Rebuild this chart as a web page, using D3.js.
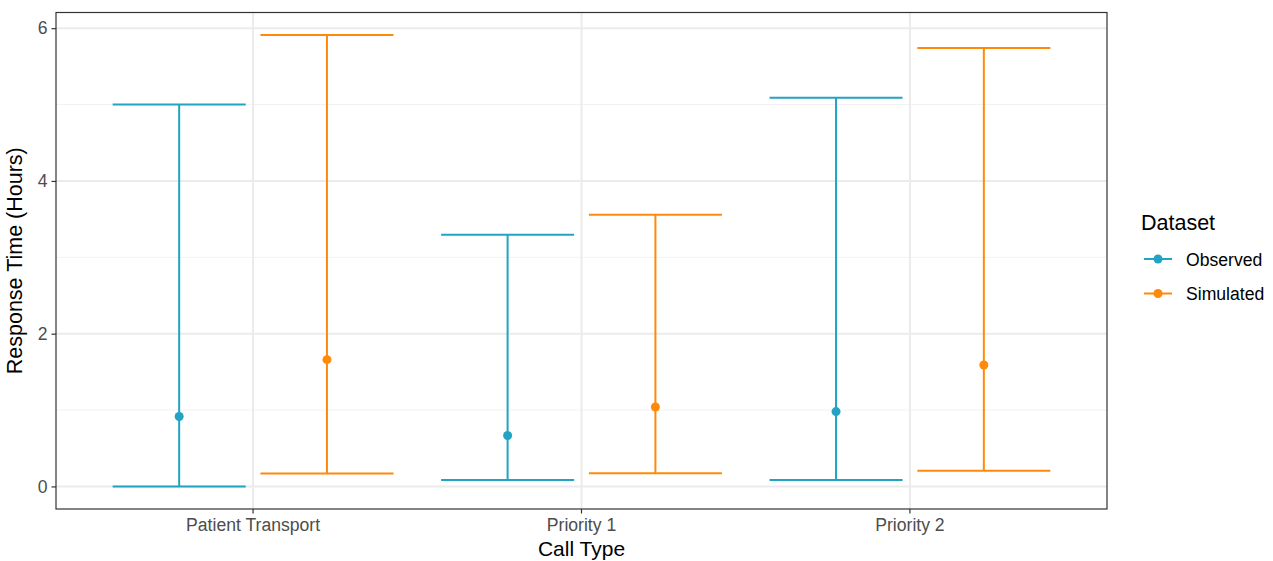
<!DOCTYPE html>
<html>
<head>
<meta charset="utf-8">
<script src="https://cdn.jsdelivr.net/npm/d3@7"></script>
<style>
  html, body { margin: 0; padding: 0; background: #fff; }
  svg { display: block; font-family: "Liberation Sans", Arial, sans-serif; }
</style>
</head>
<body>
<svg id="chart" width="1273" height="561"></svg>
<script>
// Response time summary per call type: mean with lower/upper range
const categories = ["Patient Transport", "Priority 1", "Priority 2"];
const datasets = ["Observed", "Simulated"];
const observedMean = [0.915, 0.667, 0.98];
const observedLow = [0.0, 0.083, 0.083];
const observedHigh = [5.0, 3.295, 5.09];
const simulatedMean = [1.66, 1.04, 1.59];
const simulatedLow = [0.17, 0.174, 0.204];
const simulatedHigh = [5.91, 3.556, 5.74];
const yTicks = [0, 2, 4, 6];
const colors = { Observed: "#22A3C3", Simulated: "#FF8A0A" };

const FONT = "Liberation Sans, Arial, sans-serif";

const rows = [];
categories.forEach((c, i) => {
  rows.push({ cat: c, set: "Observed", mean: observedMean[i], low: observedLow[i], high: observedHigh[i] });
  rows.push({ cat: c, set: "Simulated", mean: simulatedMean[i], low: simulatedLow[i], high: simulatedHigh[i] });
});

const svg = d3.select("#chart");
const panel = { left: 56, top: 12.5, right: 1107, bottom: 509 };

// y: data span with 5% padding on each side
const yMin = d3.min(rows, d => d.low), yMax = d3.max(rows, d => d.high);
const pad = (yMax - yMin) * 0.05;
const y = d3.scaleLinear().domain([yMin - pad, yMax + pad]).range([panel.bottom, panel.top]);

// x: discrete positions 1..n with 0.6 padding
const xc = d3.scaleLinear().domain([0.4, categories.length + 0.6]).range([panel.left, panel.right]);
const catPos = c => xc(categories.indexOf(c) + 1);
const dodge = 0.225, halfBar = 0.2025;
const xPos = d => xc(categories.indexOf(d.cat) + 1 + (d.set === "Observed" ? -dodge : dodge));
const unit = xc(1) - xc(0);

// panel grid
const g = svg.append("g");
const minor = [1, 3, 5];
g.selectAll(".minor").data(minor).join("line")
  .attr("x1", panel.left).attr("x2", panel.right)
  .attr("y1", d => y(d)).attr("y2", d => y(d))
  .attr("stroke", "#F2F2F2").attr("stroke-width", 1);
g.selectAll(".major").data(yTicks).join("line")
  .attr("x1", panel.left).attr("x2", panel.right)
  .attr("y1", d => y(d)).attr("y2", d => y(d))
  .attr("stroke", "#EBEBEB").attr("stroke-width", 2);
g.selectAll(".vgrid").data(categories).join("line")
  .attr("x1", d => catPos(d)).attr("x2", d => catPos(d))
  .attr("y1", panel.top).attr("y2", panel.bottom)
  .attr("stroke", "#EBEBEB").attr("stroke-width", 2);

// error bars
const bars = svg.append("g").selectAll("g").data(rows).join("g")
  .attr("stroke", d => colors[d.set]).attr("stroke-width", 2).attr("fill", "none");
bars.append("line")
  .attr("x1", d => xPos(d)).attr("x2", d => xPos(d))
  .attr("y1", d => y(d.low)).attr("y2", d => y(d.high));
bars.append("line")
  .attr("x1", d => xPos(d) - halfBar * unit).attr("x2", d => xPos(d) + halfBar * unit)
  .attr("y1", d => y(d.high)).attr("y2", d => y(d.high));
bars.append("line")
  .attr("x1", d => xPos(d) - halfBar * unit).attr("x2", d => xPos(d) + halfBar * unit)
  .attr("y1", d => y(d.low)).attr("y2", d => y(d.low));
svg.append("g").selectAll("circle").data(rows).join("circle")
  .attr("cx", d => xPos(d)).attr("cy", d => y(d.mean)).attr("r", 4.5)
  .attr("fill", d => colors[d.set]);

// panel border
svg.append("rect")
  .attr("x", panel.left).attr("y", panel.top)
  .attr("width", panel.right - panel.left).attr("height", panel.bottom - panel.top)
  .attr("fill", "none").attr("stroke", "#333333").attr("stroke-width", 1.2);

// axes
const yAxis = d3.axisLeft(y).tickValues(yTicks).tickSize(4.5).tickPadding(4).tickFormat(d3.format("d"));
const ya = svg.append("g").attr("transform", `translate(${panel.left},0)`).call(yAxis)
  .attr("font-family", FONT).attr("font-size", 17.6);
ya.select(".domain").remove();
ya.selectAll(".tick line").attr("stroke", "#333333").attr("stroke-width", 1.2);
ya.selectAll(".tick text").attr("fill", "#4D4D4D");

const xb = d3.scaleBand().domain(categories).range([xc(0.5), xc(categories.length + 0.5)]);
const xAxis = d3.axisBottom(xb).tickSize(4.5).tickPadding(5);
const xa = svg.append("g").attr("transform", `translate(0,${panel.bottom})`).call(xAxis)
  .attr("font-family", FONT).attr("font-size", 17.6);
xa.select(".domain").remove();
xa.selectAll(".tick line").attr("stroke", "#333333").attr("stroke-width", 1.2);
xa.selectAll(".tick text").attr("fill", "#4D4D4D");

// axis titles
svg.append("text").attr("x", (panel.left + panel.right) / 2).attr("y", 555.5)
  .attr("text-anchor", "middle").attr("font-size", 21).attr("fill", "#000")
  .text("Call Type");
svg.append("text")
  .attr("transform", `translate(22,${(panel.top + panel.bottom) / 2}) rotate(-90)`)
  .attr("text-anchor", "middle").attr("font-size", 21.5).attr("fill", "#000")
  .text("Response Time (Hours)");

// legend
const lg = svg.append("g").attr("transform", "translate(1141,0)");
lg.append("text").attr("x", 0).attr("y", 230).attr("font-size", 21.5).attr("fill", "#000").text("Dataset");
const items = lg.selectAll(".item").data(datasets).join("g")
  .attr("transform", (d, i) => `translate(0,${259 + i * 34.5})`);
items.append("line").attr("x1", 3).attr("x2", 31).attr("y1", 0).attr("y2", 0)
  .attr("stroke", d => colors[d]).attr("stroke-width", 2);
items.append("circle").attr("cx", 17).attr("cy", 0).attr("r", 4.5).attr("fill", d => colors[d]);
items.append("text").attr("x", 45).attr("y", 6.5).attr("font-size", 17.6).attr("fill", "#000").text(d => d);
</script>
</body>
</html>
